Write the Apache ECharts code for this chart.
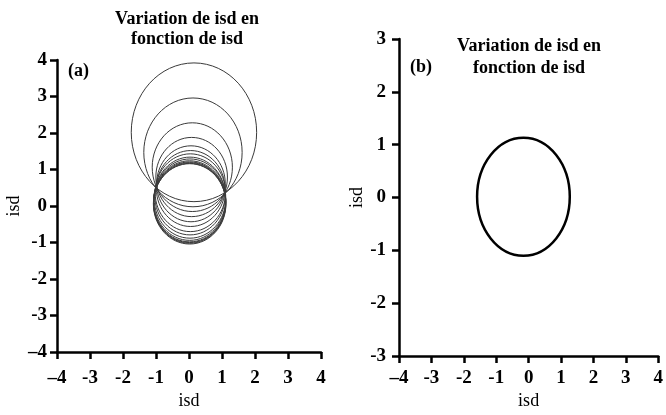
<!DOCTYPE html>
<html>
<head>
<meta charset="utf-8">
<script src="https://cdn.jsdelivr.net/npm/echarts@6/dist/echarts.min.js"></script>
<style>
  html, body { margin: 0; padding: 0; background: #fff; }
  #chart { width: 666px; height: 415px; }
</style>
</head>
<body>
<div id="chart"></div>
<script>
// (a) famille de cercles : centre (x, y) et rayon
const circleX = [0.15, 0.12, 0.10, 0.08, 0.06, 0.05, 0.04, 0.03, 0.03, 0.02, 0.02, 0.02, 0.02, 0.02]
const circleY = [2.02, 1.47, 1.065, 0.795, 0.61, 0.48, 0.365, 0.275, 0.205, 0.15, 0.115, 0.095, 0.075, 0.06]
const circleR = [1.90, 1.49, 1.215, 1.085, 1.04, 1.04, 1.065, 1.065, 1.085, 1.09, 1.095, 1.095, 1.095, 1.10]

// (b) une seule ellipse : centre, demi-axes x et y
const ellipseX = [-0.16]
const ellipseY = [0.015]
const ellipseRx = [1.43]
const ellipseRy = [1.115]

const FONT = '"Liberation Serif", "Times New Roman", serif'
const titleText = 'Variation de isd en\nfonction de isd'

const circleData = circleX.map((x, i) => [x, circleY[i], circleR[i], circleR[i]])
const ellipseData = ellipseX.map((x, i) => [x, ellipseY[i], ellipseRx[i], ellipseRy[i]])

function axisBase(min, max, firstDash, labelMargin) {
  return {
    type: 'value',
    min: min,
    max: max,
    interval: 1,
    splitLine: { show: false },
    axisLine: { show: true, onZero: false, lineStyle: { color: '#000', width: 2.5 } },
    axisTick: { show: true, inside: false, length: 7, lineStyle: { color: '#000', width: 2.5 } },
    axisLabel: {
      color: '#000',
      fontFamily: FONT,
      fontWeight: 'bold',
      fontSize: 19,
      margin: labelMargin,
      formatter: v => (firstDash && v === min) ? '–' + Math.abs(v) : String(v)
    },
    name: 'isd',
    nameLocation: 'middle',
    nameTextStyle: { color: '#000', fontFamily: FONT, fontSize: 18 }
  }
}

function ellipseItem(color, width) {
  return function (params, api) {
    const c = api.coord([api.value(0), api.value(1)])
    const s = api.size([api.value(2), api.value(3)])
    return {
      type: 'ellipse',
      shape: { cx: c[0], cy: c[1], rx: s[0], ry: s[1] },
      style: { fill: 'none', stroke: color, lineWidth: width }
    }
  }
}

const chart = echarts.init(document.getElementById('chart'))

const option = {
  backgroundColor: '#fff',
  animation: false,
  title: [
    {
      text: titleText, left: 182, top: 4, textAlign: 'center',
      textStyle: { fontFamily: FONT, fontWeight: 'bold', fontSize: 18, lineHeight: 20, color: '#000' }
    },
    {
      text: titleText, left: 524, top: 30, textAlign: 'center',
      textStyle: { fontFamily: FONT, fontWeight: 'bold', fontSize: 18, lineHeight: 22, color: '#000' }
    },
    {
      text: '(a)', left: 63, top: 57,
      textStyle: { fontFamily: FONT, fontWeight: 'bold', fontSize: 18, color: '#000' }
    },
    {
      text: '(b)', left: 405, top: 53,
      textStyle: { fontFamily: FONT, fontSize: 18, color: '#000' }
    }
  ],
  grid: [
    { left: 57, top: 60, width: 264, height: 294 },
    { left: 399, top: 39, width: 264, height: 318 }
  ],
  xAxis: [
    Object.assign(axisBase(-4, 4, true, 16), { gridIndex: 0, nameGap: 38 }),
    Object.assign(axisBase(-4, 4, true, 12), { gridIndex: 1, nameGap: 35 })
  ],
  yAxis: [
    Object.assign(axisBase(-4, 4, true, 10), { gridIndex: 0, nameGap: 34 }),
    Object.assign(axisBase(-3, 3, false, 13), { gridIndex: 1, nameGap: 33 })
  ],
  series: [
    {
      type: 'custom',
      xAxisIndex: 0, yAxisIndex: 0,
      renderItem: ellipseItem('#3a3a3a', 1),
      data: circleData,
      silent: true
    },
    {
      type: 'custom',
      xAxisIndex: 1, yAxisIndex: 1,
      renderItem: ellipseItem('#000', 2.5),
      data: ellipseData,
      silent: true
    }
  ]
}

chart.setOption(option)
</script>
</body>
</html>
